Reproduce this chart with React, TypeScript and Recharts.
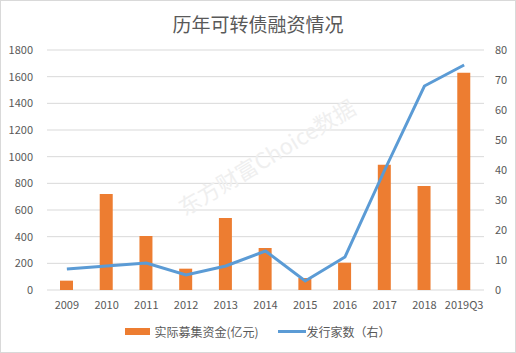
import React from 'react';
import { ComposedChart, Bar, Line, XAxis, YAxis, CartesianGrid, Legend } from 'recharts';

const categories = ['2009', '2010', '2011', '2012', '2013', '2014', '2015', '2016', '2017', '2018', '2019Q3'];
const fundsRaised = [70, 720, 405, 160, 540, 315, 90, 205, 940, 780, 1630];
const issuerCount = [7, 8, 9, 5, 8, 13, 3, 11, 40, 68, 75];
const leftTicks = [0, 200, 400, 600, 800, 1000, 1200, 1400, 1600, 1800];
const rightTicks = [0, 10, 20, 30, 40, 50, 60, 70, 80];

const title = '历年可转债融资情况';
const barName = '实际募集资金(亿元)';
const lineName = '发行家数（右）';
const watermark = '东方财富Choice数据';

const data = categories.map((c, i) => ({ name: c, funds: fundsRaised[i], count: issuerCount[i] }));

const FONT = '"Noto Sans CJK SC", "Liberation Sans", sans-serif';
const ORANGE = '#ED7D31';
const BLUE = '#5B9BD5';
const TEXT = '#595959';

const renderLegend = (props: any) => {
  const payload = [...(props.payload || [])].sort((a: any, b: any) => (a.type === 'line' ? 1 : 0) - (b.type === 'line' ? 1 : 0));
  return (
    <div style={{ display: 'flex', justifyContent: 'center', alignItems: 'center', fontFamily: FONT, fontSize: 12, color: TEXT }}>
      {payload.map((p: any, i: number) => (
        <div key={i} style={{ display: 'flex', alignItems: 'center', marginLeft: i === 0 ? 0 : 19 }}>
          {p.type === 'line' ? (
            <span style={{ display: 'inline-block', width: 28, height: 3, background: p.color, marginRight: 1 }} />
          ) : (
            <span style={{ display: 'inline-block', width: 25, height: 7, background: p.color, marginRight: 4 }} />
          )}
          <span>{p.value}</span>
        </div>
      ))}
    </div>
  );
};

export default function App() {
  return (
    <div style={{ position: 'absolute', left: 0, top: 0, width: 516, height: 353, background: '#fff' }}>
      <ComposedChart width={516} height={353} data={data} margin={{ top: 50, right: 0, bottom: 33, left: 0 }}>
        <rect x={0.5} y={0.5} width={515} height={352} fill="none" stroke="#d9d9d9" />
        <text x={258} y={23} textAnchor="middle" dominantBaseline="central" fontFamily={FONT} fontSize={19} fill={TEXT}>
          {title}
        </text>
        <text
          x={266}
          y={156}
          textAnchor="middle"
          dominantBaseline="central"
          fontFamily={FONT}
          fontSize={22}
          fill="#efefef"
          transform="rotate(-31 266 156)"
        >
          {watermark}
        </text>
        <CartesianGrid vertical={false} stroke="#d9d9d9" yAxisId="left" />
        <XAxis
          dataKey="name"
          height={30}
          axisLine={false}
          tickLine={false}
          tickSize={0}
          tickMargin={11}
          interval={0}
          tick={{ fontSize: 11, fill: TEXT, fontFamily: FONT }}
        />
        <YAxis
          yAxisId="left"
          orientation="left"
          width={47}
          domain={[0, 1800]}
          ticks={leftTicks}
          axisLine={false}
          tickLine={false}
          tickSize={0}
          tickMargin={14}
          tick={{ fontSize: 11, fill: TEXT, fontFamily: FONT }}
        />
        <YAxis
          yAxisId="right"
          orientation="right"
          width={32}
          domain={[0, 80]}
          ticks={rightTicks}
          axisLine={false}
          tickLine={false}
          tickSize={0}
          tickMargin={11}
          tick={{ fontSize: 11, fill: TEXT, fontFamily: FONT, textAnchor: 'start' }}
        />
        <Legend
          layout="horizontal"
          verticalAlign="middle"
          align="center"
          content={renderLegend}
          wrapperStyle={{ top: 323, left: 0, width: 516 }}
        />
        <Bar yAxisId="left" dataKey="funds" name={barName} fill={ORANGE} barSize={13} isAnimationActive={false} legendType="rect" />
        <Line
          yAxisId="right"
          dataKey="count"
          name={lineName}
          type="linear"
          stroke={BLUE}
          strokeWidth={3}
          dot={false}
          activeDot={false}
          legendType="line"
          isAnimationActive={false}
        />
      </ComposedChart>
    </div>
  );
}
